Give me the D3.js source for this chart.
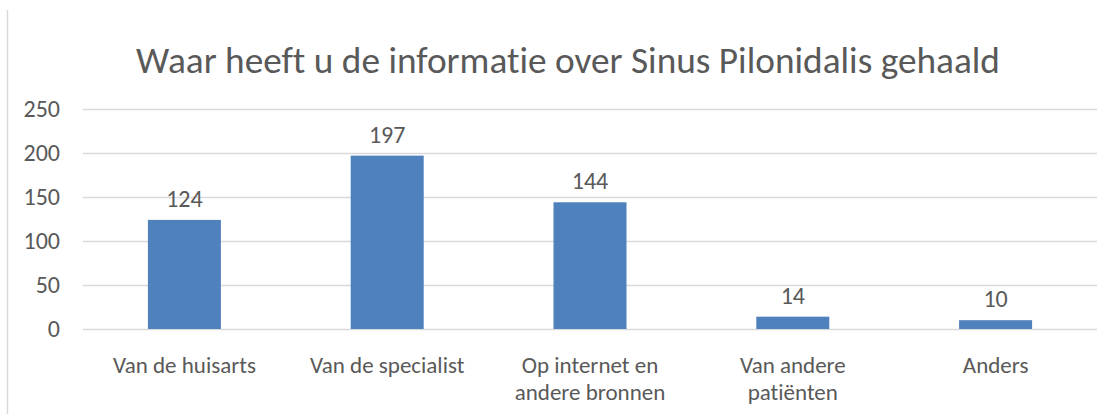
<!DOCTYPE html>
<meta charset="utf-8">
<script src="https://d3js.org/d3.v7.min.js"></script>
<style>
    body { margin: 0; background: #fff; }
    text { font-family: Carlito, "Open Sans", sans-serif; fill: #595959; font-variant-ligatures: none; }
</style>
<div id="chart"></div>
<script>
    // data
    var categories = ["Van de huisarts", "Van de specialist", "Op internet en|andere bronnen", "Van andere|patiënten", "Anders"];
    var counts = [124, 197, 144, 14, 10];
    var yTicks = [0, 50, 100, 150, 200, 250];
    var title = "Waar heeft u de informatie over Sinus Pilonidalis gehaald";

    var W = 1114, H = 414;
    var margin = { top: 109, right: 17, bottom: 85, left: 83 },
        width = W - margin.left - margin.right,
        height = H - margin.top - margin.bottom;

    var svg = d3.select("#chart").append("svg")
        .attr("width", W)
        .attr("height", H);

    // thin frame line on the left
    svg.append("line")
        .attr("x1", 7.5).attr("x2", 7.5)
        .attr("y1", 10).attr("y2", H)
        .attr("stroke", "#d9d9d9")
        .attr("stroke-width", 1.5);

    // title, sized to the width it has in the picture
    var t = svg.append("text")
        .attr("x", 568)
        .attr("y", 73)
        .attr("text-anchor", "middle")
        .style("font-size", "32px")
        .text(title);
    var len = t.node().getComputedTextLength();
    t.style("font-size", (32 * 864 / len) + "px");

    var g = svg.append("g")
        .attr("transform", "translate(" + margin.left + "," + margin.top + ")");

    var x = d3.scaleBand()
        .domain(categories)
        .range([0, width])
        .paddingInner(0.64)
        .paddingOuter(0.32);

    var y = d3.scaleLinear()
        .domain([0, 250])
        .range([height, 0]);

    // gridlines
    g.append("g")
        .call(d3.axisLeft(y).tickValues(yTicks).tickSize(-width).tickFormat(""))
        .call(function (a) { a.select(".domain").remove(); })
        .selectAll("line")
        .attr("stroke", "#d9d9d9")
        .attr("stroke-width", 1.5);

    // y labels
    g.selectAll(".ylab")
        .data(yTicks)
        .enter().append("text")
        .attr("class", "ylab")
        .attr("x", -23)
        .attr("y", function (d) { return y(d) + 8; })
        .attr("text-anchor", "end")
        .style("font-size", "24px")
        .text(function (d) { return d; });

    // bars
    g.selectAll("rect")
        .data(counts)
        .enter().append("rect")
        .attr("x", function (d, i) { return x(categories[i]); })
        .attr("y", function (d) { return y(d); })
        .attr("width", x.bandwidth())
        .attr("height", function (d) { return height - y(d); })
        .attr("fill", "#4f81bd");

    // value labels
    g.selectAll(".val")
        .data(counts)
        .enter().append("text")
        .attr("class", "val")
        .attr("x", function (d, i) { return x(categories[i]) + x.bandwidth() / 2; })
        .attr("y", function (d) { return y(d) - 13; })
        .attr("text-anchor", "middle")
        .style("font-size", "24px")
        .text(function (d) { return d; });

    // category labels, split on |
    var cat = g.selectAll(".cat")
        .data(categories)
        .enter().append("text")
        .attr("class", "cat")
        .attr("text-anchor", "middle")
        .attr("transform", function (d) {
            return "translate(" + (x(d) + x.bandwidth() / 2) + "," + (height + 44) + ")";
        })
        .style("font-size", "23px");
    cat.selectAll("tspan")
        .data(function (d) { return d.split("|"); })
        .enter().append("tspan")
        .attr("x", 0)
        .attr("dy", function (d, i) { return i ? 27 : 0; })
        .text(function (d) { return d; });
</script>
